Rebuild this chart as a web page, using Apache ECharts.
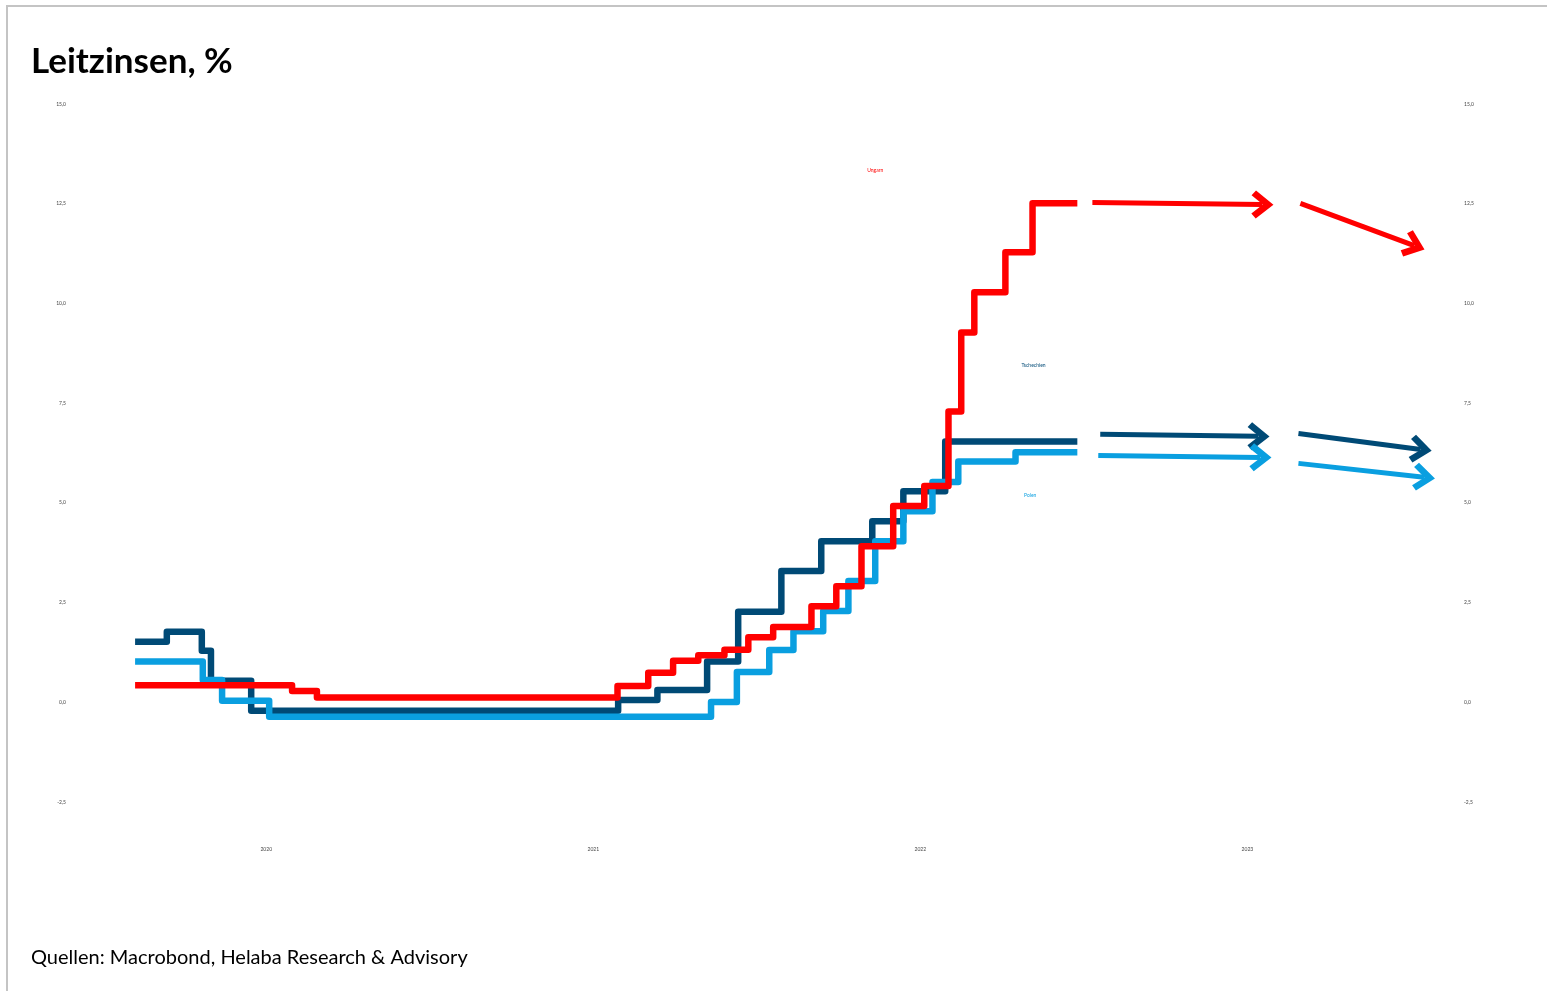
<!DOCTYPE html>
<html>
<head>
<meta charset="utf-8">
<script src="https://cdn.jsdelivr.net/npm/echarts@6/dist/echarts.min.js"></script>
<style>
html,body{margin:0;padding:0;background:#fff;}
#chart{width:1547px;height:991px;}
</style>
</head>
<body>
<div id="chart"></div>
<script>
// Decimal-year x values, policy rate in %
const seriesNames = ['Ungarn', 'Tschechien', 'Polen'];
const xTickYears = [2020, 2021, 2022, 2023];

const ungarn = [
  [2019.599, 0.43], [2020.079, 0.28], [2020.155, 0.12], [2021.074, 0.41],
  [2021.168, 0.74], [2021.244, 1.04], [2021.321, 1.18], [2021.401, 1.32],
  [2021.474, 1.63], [2021.550, 1.89], [2021.667, 2.41], [2021.743, 2.91],
  [2021.820, 3.91], [2021.917, 4.92], [2022.012, 5.42], [2022.086, 7.29],
  [2022.125, 9.27], [2022.165, 10.28], [2022.260, 11.28], [2022.343, 12.51],
  [2022.480, 12.51]
];
const tschechien = [
  [2019.599, 1.52], [2019.696, 1.77], [2019.803, 1.29], [2019.831, 0.54],
  [2019.954, -0.21], [2021.076, 0.06], [2021.196, 0.31], [2021.348, 1.02],
  [2021.443, 2.27], [2021.575, 3.29], [2021.697, 4.04], [2021.853, 4.54],
  [2021.948, 5.29], [2022.076, 6.54], [2022.480, 6.54]
];
const polen = [
  [2019.599, 1.02], [2019.806, 0.56], [2019.865, 0.04], [2020.009, -0.36],
  [2021.360, 0.01], [2021.439, 0.76], [2021.538, 1.31], [2021.612, 1.78],
  [2021.703, 2.29], [2021.780, 3.04], [2021.862, 4.04], [2021.948, 4.79],
  [2022.037, 5.52], [2022.116, 6.04], [2022.291, 6.27], [2022.480, 6.27]
];

// Forecast arrows: [start, end] pairs
const ungarnArrows = [
  [[2022.526, 12.53], [2023.046, 12.48]],
  [[2023.162, 12.51], [2023.510, 11.45]]
];
const tschechienArrows = [
  [[2022.550, 6.72], [2023.034, 6.67]],
  [[2023.156, 6.74], [2023.530, 6.34]]
];
const polenArrows = [
  [[2022.544, 6.19], [2023.040, 6.14]],
  [[2023.156, 5.99], [2023.540, 5.64]]
];

// Label anchor points in data coordinates
const labelPoints = [[2021.862, 13.33], [2022.346, 8.45], [2022.336, 5.19]];

const colors = ['#ff0000', '#004a76', '#0a9fe0'];
const chevron = 'path://M10,0 L20,12 L16.5,15 L10,7.2 L3.5,15 L0,12 Z';

function mkSeries(i, data, arrows) {
  return {
    name: seriesNames[i],
    type: 'line',
    step: 'end',
    data: data,
    symbol: 'none',
    silent: true,
    lineStyle: { color: colors[i], width: 6.5, join: 'round' },
    itemStyle: { color: colors[i] },
    markLine: {
      silent: true,
      symbol: ['none', chevron],
      symbolSize: [28, 22],
      label: { show: false },
      lineStyle: { color: colors[i], width: 5, type: 'solid' },
      animation: false,
      data: arrows.map(a => [{ coord: a[0] }, { coord: a[1] }])
    },
    markPoint: {
      silent: true,
      symbol: 'circle',
      symbolSize: 0,
      label: { show: true, position: 'inside', formatter: seriesNames[i],
               color: colors[i], fontSize: 5, fontFamily: 'Lato' },
      data: [{ coord: labelPoints[i] }]
    }
  };
}

const fmtY = v => v.toFixed(1).replace('.', ',');

const chart = echarts.init(document.getElementById('chart'), null, { renderer: 'canvas' });
chart.setOption({
  animation: false,
  backgroundColor: '#fff',
  title: {
    text: 'Leitzinsen, %',
    left: 26, top: 39,
    textStyle: { fontFamily: 'Lato', fontWeight: 'bold', fontSize: 35, color: '#000' }
  },
  graphic: [
    { type: 'line', shape: { x1: 6, y1: 6, x2: 1547, y2: 6 }, style: { stroke: '#c4c4c4', lineWidth: 2 } },
    { type: 'line', shape: { x1: 7, y1: 6, x2: 7, y2: 991 }, style: { stroke: '#c4c4c4', lineWidth: 2 } },
    { type: 'text', left: 31, top: 948,
      style: { text: 'Quellen: Macrobond, Helaba Research & Advisory', fontFamily: 'Lato', fontSize: 20, fill: '#000' } }
  ],
  grid: { left: 70, right: 87, top: 104, bottom: 189, containLabel: false },
  xAxis: {
    type: 'value', min: 2019.4, max: 2023.65,
    axisLine: { show: false }, axisTick: { show: false }, splitLine: { show: false },
    axisLabel: { customValues: xTickYears, formatter: v => String(Math.round(v)),
                 fontSize: 5, color: '#444', margin: 45, fontFamily: 'Lato' }
  },
  yAxis: [
    { type: 'value', min: -2.5, max: 15, interval: 2.5, position: 'left',
      axisLine: { show: false }, axisTick: { show: false }, splitLine: { show: false },
      axisLabel: { formatter: fmtY, fontSize: 5, color: '#444', margin: 4, fontFamily: 'Lato' } },
    { type: 'value', min: -2.5, max: 15, interval: 2.5, position: 'right',
      axisLine: { show: false }, axisTick: { show: false }, splitLine: { show: false },
      axisLabel: { formatter: fmtY, fontSize: 5, color: '#444', margin: 4, fontFamily: 'Lato' } }
  ],
  series: [
    mkSeries(1, tschechien, tschechienArrows),
    mkSeries(2, polen, polenArrows),
    mkSeries(0, ungarn, ungarnArrows)
  ]
});
</script>
</body>
</html>
